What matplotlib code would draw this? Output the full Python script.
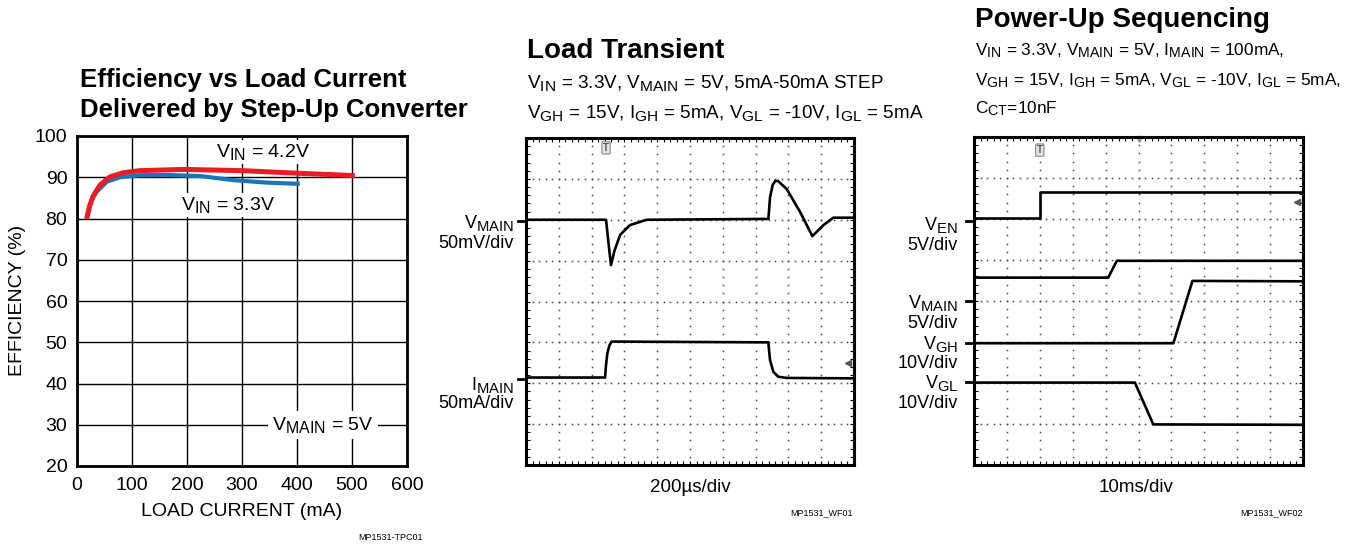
import numpy as np
import matplotlib
matplotlib.use('Agg')
import matplotlib.pyplot as plt
import matplotlib._mathtext as mathtext_internal

#######################################################################
# Data
#######################################################################
# efficiency vs load current (mA, %)
load_42 = [17.6, 22.4, 29.7, 41.8, 60, 84, 114, 193, 302, 405, 505]
eff_42 = [79.9, 82.9, 85.5, 88.1, 90.1, 91.1, 91.6, 91.9, 91.6, 90.95, 90.4]
load_33 = [17.6, 26.7, 35.8, 54, 78, 114, 163, 224, 284, 345, 405]
eff_33 = [80.0, 84.5, 86.5, 88.9, 90.0, 90.5, 90.55, 90.3, 89.3, 88.7, 88.4]
x_ticks = [0, 100, 200, 300, 400, 500, 600]
y_ticks = [20, 30, 40, 50, 60, 70, 80, 90, 100]

# load transient traces (divisions: x 0-10, y 0-8)
vmain_t = [0, 2.44, 2.52, 2.59, 2.70, 2.87, 3.17, 3.68, 7.39, 7.44, 7.52, 7.60, 7.68, 7.95, 8.35, 8.73, 9.07, 9.37, 10]
vmain_v = [6.0, 6.0, 5.4, 4.89, 5.25, 5.63, 5.87, 6.0, 6.02, 6.55, 6.85, 6.95, 6.95, 6.75, 6.2, 5.6, 5.87, 6.05, 6.05]
imain_t = [0, 2.41, 2.44, 2.48, 2.54, 2.61, 7.39, 7.41, 7.44, 7.54, 7.69, 7.95, 10]
imain_v = [2.14, 2.14, 2.45, 2.73, 2.92, 3.02, 3.0, 2.8, 2.57, 2.28, 2.16, 2.13, 2.12]

# power-up sequencing traces (divisions)
ven_t = [0, 2.0, 2.0, 10]
ven_v = [6.02, 6.02, 6.67, 6.67]
vmain_pu_t = [0, 4.08, 4.34, 10]
vmain_pu_v = [4.57, 4.57, 4.98, 4.98]
vgh_t = [0, 6.06, 6.64, 10]
vgh_v = [2.97, 2.97, 4.49, 4.48]
vgl_t = [0, 4.89, 5.45, 10]
vgl_v = [2.01, 2.01, 0.99, 0.98]

#######################################################################
# Figure setup
#######################################################################
plt.rcParams['font.family'] = ['Liberation Sans', 'DejaVu Sans']
plt.rcParams['mathtext.fontset'] = 'custom'
plt.rcParams['mathtext.rm'] = 'Liberation Sans'
plt.rcParams['mathtext.it'] = 'Liberation Sans:italic'
plt.rcParams['mathtext.bf'] = 'Liberation Sans:bold'
# datasheet subscripts are bigger than mathtext's default
mathtext_internal.SHRINK_FACTOR = 0.82

W, H = 1366, 544
fig = plt.figure(figsize=(W / 100, H / 100), dpi=100)


def fx(px):
    return px / W


def fy(py):
    return 1 - py / H


def box(x0, y0, x1, y1):
    return [fx(x0), fy(y1), (x1 - x0) / W, (y1 - y0) / H]


def sub(a, b):
    return r'$\mathregular{' + a + '_{' + b + '}}$'


def label(px, py, s, size=13, **kw):
    fig.text(fx(px), fy(py), s, fontsize=size, **kw)


#######################################################################
# Efficiency panel
#######################################################################
ax1 = fig.add_axes(box(77, 136, 407, 466))
ax1.plot(load_33, eff_33, color='#1b75bb', lw=3.0, solid_capstyle='butt',
         solid_joinstyle='round', zorder=3)
ax1.plot(load_42, eff_42, color='#ec1c24', lw=3.6, solid_capstyle='butt',
         solid_joinstyle='round', zorder=4)
ax1.set_xlim(0, 600)
ax1.set_ylim(20, 100)
ax1.set_xticks(x_ticks)
ax1.set_yticks(y_ticks)
ax1.grid(True, color='black', lw=1.0)
ax1.tick_params(length=0, labelsize=14)
ax1.tick_params(axis='y', pad=7)
ax1.tick_params(axis='x', pad=8)
for s in ax1.spines.values():
    s.set_linewidth(2.0)

white = dict(facecolor='white', edgecolor='none', pad=1.5)
ax1.text(338, 96.1, sub('V', 'IN') + ' = 4.2V', ha='center', va='center',
         fontsize=14, bbox=white, zorder=5)
ax1.text(274, 83.3, sub('V', 'IN') + ' = 3.3V', ha='center', va='center',
         fontsize=14, bbox=white, zorder=5)
ax1.text(447, 29.9, sub('V', 'MAIN') + ' = 5V', ha='center', va='center',
         fontsize=14, bbox=dict(facecolor='white', edgecolor='none', pad=3), zorder=5)

label(80, 87, 'Efficiency vs Load Current', size=18.5, weight='bold', va='baseline')
label(80, 117, 'Delivered by Step-Up Converter', size=18.5, weight='bold', va='baseline')
label(18, 300, 'EFFICIENCY (%)', size=14, rotation=90, ha='center', va='center')
label(242, 511, 'LOAD CURRENT (mA)', size=14, ha='center', va='center')
label(423, 538, 'MP1531-TPC01', size=6.5, ha='right', va='center')


#######################################################################
# Scope panels
#######################################################################
def scope(rect):
    ax = fig.add_axes(rect)
    ax.set_xlim(0, 10)
    ax.set_ylim(0, 8)
    ax.set_xticks([])
    ax.set_yticks([])
    ax.set_xticks(np.arange(0.2, 10, 0.2), minor=True)
    ax.set_yticks(np.arange(0.2, 8, 0.2), minor=True)
    ax.tick_params(which='minor', direction='in', length=3, width=0.8,
                   top=True, right=True, labelbottom=False, labelleft=False)
    fine_x = np.arange(0, 10.01, 0.2)
    fine_y = np.arange(0, 8.01, 0.2)
    for gx in range(1, 10):
        ax.plot(np.full_like(fine_y, gx), fine_y, ls='none', marker='s',
                ms=1.1, color='#444', mew=0)
    for gy in range(1, 8):
        ax.plot(fine_x, np.full_like(fine_x, gy), ls='none', marker='s',
                ms=1.1, color='#444', mew=0)
    for s in ax.spines.values():
        s.set_linewidth(2.2)
    return ax


def channel_mark(ax, level):
    ax.plot([-0.25, 0], [level, level], color='black', lw=2, clip_on=False)


def trigger(ax, x, y):
    ax.text(x, y, 'T', ha='center', va='center', fontsize=7, color='#555',
            weight='bold', bbox=dict(boxstyle='round,pad=0.12', fc='#e4e4e4',
                                     ec='#888', lw=0.8))


# Load transient
ax2 = scope(box(526, 138, 854, 465))
ax2.plot(vmain_t, vmain_v, color='black', lw=1.9, solid_joinstyle='round')
ax2.plot(imain_t, imain_v, color='black', lw=1.9, solid_joinstyle='round')
channel_mark(ax2, 5.98)
channel_mark(ax2, 2.1)
trigger(ax2, 2.44, 7.76)
ax2.plot([9.82], [2.5], marker='<', ms=5, color='#555', ls='none')

label(527, 58, 'Load Transient', size=20, weight='bold', va='baseline')
label(527, 88, sub('V', 'IN') + ' = 3.3V, ' + sub('V', 'MAIN') + ' = 5V, 5mA-50mA STEP',
      size=13.6, va='baseline')
label(527, 118, sub('V', 'GH') + ' = 15V, ' + sub('I', 'GH') + ' = 5mA, ' + sub('V', 'GL')
      + ' = -10V, ' + sub('I', 'GL') + ' = 5mA', size=13.6, va='baseline')
label(514, 223, sub('V', 'MAIN'), ha='right', va='center')
label(514, 243, '50mV/div', ha='right', va='center')
label(514, 385, sub('I', 'MAIN'), ha='right', va='center')
label(514, 404, '50mA/div', ha='right', va='center')
label(690, 487, '200µs/div', size=13.5, ha='center', va='center')
label(853, 513, 'MP1531_WF01', size=6.5, ha='right', va='center')

# Power-up sequencing
ax3 = scope(box(974, 137, 1303, 465))
for t, v in [(ven_t, ven_v), (vmain_pu_t, vmain_pu_v), (vgh_t, vgh_v), (vgl_t, vgl_v)]:
    ax3.plot(t, v, color='black', lw=1.9)
for level in [5.96, 4.0, 2.97, 2.03]:
    channel_mark(ax3, level)
trigger(ax3, 2.0, 7.68)
ax3.plot([9.82], [6.41], marker='<', ms=5, color='#555', ls='none')
ax3.plot([5.0], [7.95], marker='v', ms=5, color='#999', ls='none', clip_on=False)

label(975, 27, 'Power-Up Sequencing', size=20, weight='bold', va='baseline')
label(975, 55, sub('V', 'IN') + ' = 3.3V, ' + sub('V', 'MAIN') + ' = 5V, '
      + sub('I', 'MAIN') + ' = 100mA,', size=12.4, va='baseline')
label(975, 85, sub('V', 'GH') + ' = 15V, ' + sub('I', 'GH') + ' = 5mA, ' + sub('V', 'GL')
      + ' = -10V, ' + sub('I', 'GL') + ' = 5mA,', size=12.4, va='baseline')
label(975, 113, sub('C', 'CT') + '=10nF', size=12.4, va='baseline')
label(958, 225, sub('V', 'EN'), ha='right', va='center')
label(958, 245, '5V/div', ha='right', va='center')
label(958, 303, sub('V', 'MAIN'), ha='right', va='center')
label(958, 323, '5V/div', ha='right', va='center')
label(958, 344, sub('V', 'GH'), ha='right', va='center')
label(958, 364, '10V/div', ha='right', va='center')
label(958, 383, sub('V', 'GL'), ha='right', va='center')
label(958, 404, '10V/div', ha='right', va='center')
label(1136, 487, '10ms/div', size=13.5, ha='center', va='center')
label(1303, 513, 'MP1531_WF02', size=6.5, ha='right', va='center')

fig.savefig('out.png', dpi=100)
